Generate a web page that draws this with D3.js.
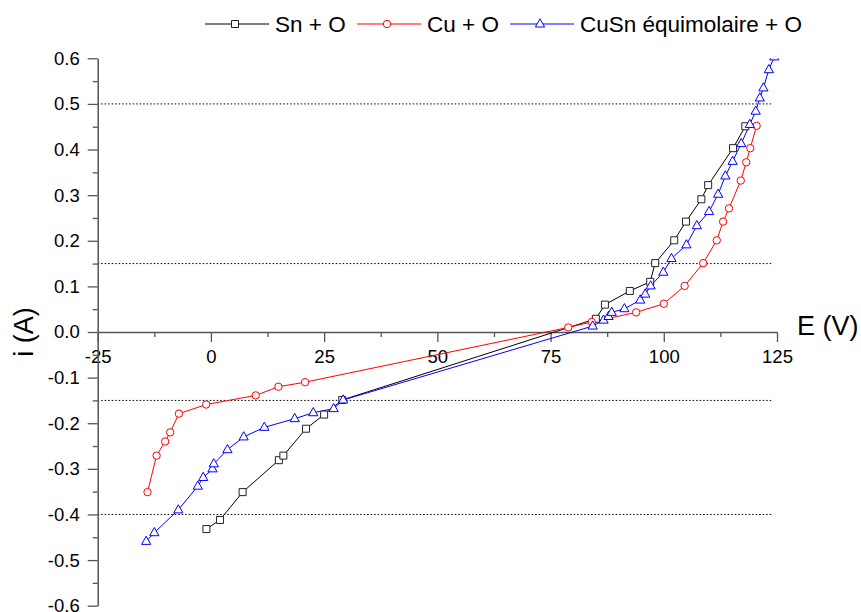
<!DOCTYPE html>
<html>
<head>
<meta charset="utf-8">
<script src="https://cdn.jsdelivr.net/npm/d3@7"></script>
<style>
  html, body { margin: 0; padding: 0; background: #fff; }
  svg { display: block; font-family: "Liberation Sans", Arial, sans-serif; }
</style>
</head>
<body>
<svg id="chart" width="861" height="612"></svg>
<script>
// ---------- data ----------
const seriesNames = ["Sn + O", "Cu + O", "CuSn équimolaire + O"];

const snE = [-1, 2, 7, 15, 16, 21, 25, 29, 85, 87, 92.5, 97, 98.1, 102.3, 104.9, 108.3, 109.8, 115.3, 118];
const snI = [-0.432, -0.412, -0.351, -0.281, -0.271, -0.212, -0.181, -0.149, 0.029, 0.060, 0.090, 0.110, 0.151, 0.201, 0.242, 0.291, 0.322, 0.403, 0.451];

const cuE = [-14, -12, -10.1, -9, -7.06, -1.05, 9.9, 14.9, 20.8, 78.9, 84.1, 93.9, 100, 104.6, 108.7, 111.7, 113.1, 114.4, 117, 118.2, 119.1, 120.5];
const cuI = [-0.351, -0.271, -0.240, -0.220, -0.179, -0.159, -0.139, -0.120, -0.110, 0.010, 0.022, 0.043, 0.062, 0.101, 0.151, 0.201, 0.242, 0.271, 0.332, 0.372, 0.403, 0.452];

const cusnE = [-14.3, -12.5, -7.2, -2.9, -1.7, 0.35, 0.64, 3.65, 7.24, 11.8, 18.5, 22.6, 27.1, 29.2,
               84.3, 86.7, 87.8, 88.5, 91.3, 94.8, 95.9, 97.1, 99.9, 101.7, 105, 107.3, 110, 112, 113.6, 115.2, 117.1, 119, 120.3, 121.2, 122, 123.2, 124.4];
const cusnI = [-0.459, -0.440, -0.390, -0.338, -0.319, -0.300, -0.289, -0.258, -0.230, -0.209, -0.190, -0.177, -0.168, -0.149,
               0.013, 0.026, 0.034, 0.043, 0.051, 0.070, 0.083, 0.101, 0.131, 0.161, 0.191, 0.233, 0.264, 0.302, 0.342, 0.374, 0.413, 0.455, 0.484, 0.513, 0.535, 0.575, 0.603];

const xTicks = [-25, 0, 25, 50, 75, 100, 125];
const xMinor = [-12.5, 12.5, 37.5, 62.5, 87.5, 112.5];
const yTicks = [-0.6, -0.5, -0.4, -0.3, -0.2, -0.1, 0.0, 0.1, 0.2, 0.3, 0.4, 0.5, 0.6];
const yMinor = [-0.55, -0.45, -0.35, -0.25, -0.15, -0.05, 0.05, 0.15, 0.25, 0.35, 0.45, 0.55];
const refLines = [0.5, 0.15, -0.15, -0.4];
const refLineEnd = 124;

const xTitle = "E (V)";
const yTitle = "i (A)";

// ---------- layout ----------
const svg = d3.select("#chart");
const x = d3.scaleLinear().domain([-25, 125]).range([97.7, 777]);
const y = d3.scaleLinear().domain([-0.6, 0.6]).range([605.7, 58.3]);

const colors = ["#000000", "#ff0000", "#0000ff"];
const markerStroke = ["#222222", "#ff0000", "#0000ff"];

// clip
svg.append("defs").append("clipPath").attr("id", "plotclip")
  .append("rect").attr("x", x(-25)).attr("y", y(0.6)).attr("width", x(125) - x(-25) + 10).attr("height", y(-0.6) - y(0.6));

// reference dotted lines
svg.append("g").selectAll("line").data(refLines).join("line")
  .attr("x1", x(-25)).attr("x2", x(refLineEnd))
  .attr("y1", d => y(d)).attr("y2", d => y(d))
  .attr("stroke", "#000").attr("stroke-width", 1)
  .attr("stroke-dasharray", "1.5,2");

// axes
const axisColor = "#555";
const xAxisG = svg.append("g").attr("transform", `translate(0,${y(0)})`);
xAxisG.append("g").call(d3.axisBottom(x).tickValues(xMinor).tickSize(5).tickFormat(""))
  .call(g => g.select(".domain").remove())
  .call(g => g.selectAll("line").attr("stroke", axisColor).attr("stroke-width", 1.3));
xAxisG.append("g").call(d3.axisBottom(x).tickValues(xTicks).tickSize(10).tickSizeOuter(0).tickFormat(d => String(d)))
  .call(g => g.select(".domain").attr("stroke", axisColor).attr("stroke-width", 1.5))
  .call(g => g.selectAll("line").attr("stroke", axisColor).attr("stroke-width", 1.3))
  .call(g => g.selectAll("text").attr("fill", "#000").attr("font-size", "18.5px")
        .attr("font-family", "'Liberation Sans', Arial, sans-serif").attr("dy", "0.72em").attr("y", 18));

const yAxisG = svg.append("g").attr("transform", `translate(${x(-25)},0)`);
yAxisG.append("g").call(d3.axisLeft(y).tickValues(yMinor).tickSize(5).tickFormat(""))
  .call(g => g.select(".domain").remove())
  .call(g => g.selectAll("line").attr("stroke", axisColor).attr("stroke-width", 1.3));
yAxisG.append("g").call(d3.axisLeft(y).tickValues(yTicks).tickSize(10).tickSizeOuter(0).tickFormat(d => d.toFixed(1)))
  .call(g => g.select(".domain").attr("stroke", axisColor).attr("stroke-width", 1.5))
  .call(g => g.selectAll("line").attr("stroke", axisColor).attr("stroke-width", 1.3))
  .call(g => g.selectAll("text").attr("fill", "#000").attr("font-size", "18.5px")
        .attr("font-family", "'Liberation Sans', Arial, sans-serif").attr("x", -18));

// axis titles
svg.append("text").attr("x", 797).attr("y", 335).attr("font-size", "27px").attr("fill", "#000").text(xTitle);
svg.append("text").attr("transform", `translate(33,${y(0)}) rotate(-90)`).attr("text-anchor", "middle")
  .attr("font-size", "27px").attr("fill", "#000").text(yTitle);

// markers
function markerPath(kind) {
  if (kind === 0) return "M-3.5,-3.5H3.5V3.5H-3.5Z";
  if (kind === 1) return d3.arc()({innerRadius: 0, outerRadius: 3.7, startAngle: 0, endAngle: 2 * Math.PI});
  return "M0,-5.2L4.6,3.0L-4.6,3.0Z";
}

const allSeries = [
  {E: snE, I: snI},
  {E: cuE, I: cuI},
  {E: cusnE, I: cusnI}
];

const plot = svg.append("g").attr("clip-path", "url(#plotclip)");
const line = d3.line().x(d => x(d[0])).y(d => y(d[1]));

allSeries.forEach((s, k) => {
  const pts = s.E.map((e, i) => [e, s.I[i]]);
  plot.append("path").datum(pts).attr("d", line)
    .attr("fill", "none").attr("stroke", colors[k]).attr("stroke-width", 1);
});
allSeries.forEach((s, k) => {
  const pts = s.E.map((e, i) => [e, s.I[i]]);
  plot.append("g").selectAll("path").data(pts).join("path")
    .attr("transform", d => `translate(${x(d[0])},${y(d[1])})`)
    .attr("d", markerPath(k))
    .attr("fill", "#fff").attr("stroke", markerStroke[k]).attr("stroke-width", 1);
});

// legend
const legendX = [205, 357, 510];
const legendY = 24;
const legend = svg.append("g");
seriesNames.forEach((name, k) => {
  const lx = legendX[k];
  legend.append("line").attr("x1", lx).attr("x2", lx + 64).attr("y1", legendY).attr("y2", legendY)
    .attr("stroke", colors[k]).attr("stroke-width", 1);
  legend.append("path").attr("transform", `translate(${lx + 30},${legendY})`)
    .attr("d", markerPath(k)).attr("fill", "#fff").attr("stroke", markerStroke[k]).attr("stroke-width", 1);
  legend.append("text").attr("x", lx + 70).attr("y", legendY + 8).attr("font-size", "22.5px")
    .attr("fill", "#000").text(name);
});
</script>
</body>
</html>
